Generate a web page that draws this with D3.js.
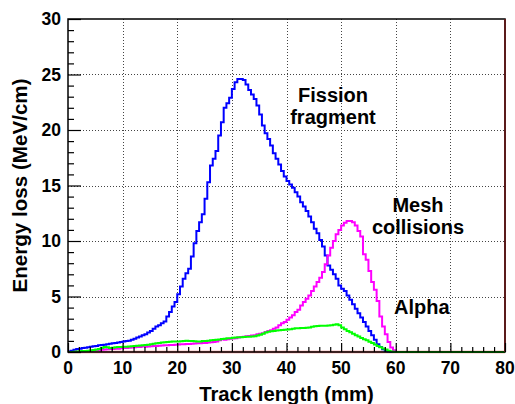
<!DOCTYPE html>
<html>
<head>
<meta charset="utf-8">
<script src="https://cdn.jsdelivr.net/npm/d3@7"></script>
<style>
  html, body { margin: 0; padding: 0; background: #fff; }
  svg { display: block; }
  text { font-family: "Liberation Sans", Arial, Helvetica, sans-serif; font-weight: bold; fill: #000; }
</style>
</head>
<body>
<svg id="chart" width="515" height="404"></svg>
<script>
// Histogram binning: 0.5 mm bins from 0 to 80 mm
const binWidth = 0.5;
const xTicksMajor = [0, 10, 20, 30, 40, 50, 60, 70, 80];
const yTicksMajor = [0, 5, 10, 15, 20, 25, 30];

// Fission fragment energy loss per bin (MeV/cm)
const fissionFragment = [
  0.05, 0.12, 0.2, 0.28, 0.3, 0.35, 0.38, 0.42, 0.48, 0.52,
  0.55, 0.6, 0.62, 0.65, 0.7, 0.75, 0.78, 0.8, 0.85, 0.9,
  0.95, 1.0, 1.02, 1.1, 1.2, 1.3, 1.4, 1.5, 1.6, 1.75,
  1.9, 2.1, 2.3, 2.4, 2.6, 2.75, 3.2, 3.6, 4.1, 4.5,
  5.2, 5.9, 6.6, 7.1, 7.5, 8.6, 9.8, 10.9, 11.7, 12.4,
  13.8, 15.3, 16.8, 17.4, 18.1, 19.5, 20.7, 22.0, 22.4, 22.9,
  23.7, 24.3, 24.6, 24.6, 24.5, 24.1, 23.6, 23.2, 22.8, 22.2,
  21.4, 20.4, 19.7, 19.2, 18.6, 17.9, 17.4, 16.9, 16.3, 15.8,
  15.4, 15.1, 14.8, 14.4, 14.0, 13.5, 13.1, 12.7, 12.2, 11.7,
  11.1, 10.7, 10.1, 9.5, 8.7, 7.8, 7.4, 7.0, 6.6, 6.0,
  5.7, 5.5, 5.1, 4.7, 4.3, 3.9, 3.5, 3.1, 2.7, 2.3,
  1.9, 1.5, 1.1, 0.7, 0.45, 0.25, 0.1, 0.05, 0, 0,
  0, 0, 0, 0, 0, 0, 0, 0, 0, 0,
  0, 0, 0, 0, 0, 0, 0, 0, 0, 0,
  0, 0, 0, 0, 0, 0, 0, 0, 0, 0,
  0, 0, 0, 0, 0, 0, 0, 0, 0, 0
];

// Mesh collisions energy loss per bin (MeV/cm)
const meshCollisions = [
  0, 0, 0, 0.02, 0.03, 0.05, 0.08, 0.1, 0.12, 0.14,
  0.16, 0.18, 0.2, 0.22, 0.24, 0.26, 0.28, 0.3, 0.3, 0.33,
  0.35, 0.36, 0.38, 0.4, 0.42, 0.44, 0.46, 0.55, 0.48, 0.5,
  0.52, 0.53, 0.55, 0.56, 0.58, 0.6, 0.6, 0.62, 0.64, 0.66,
  0.68, 0.69, 0.7, 0.72, 0.73, 0.75, 0.76, 0.78, 0.78, 0.8,
  0.82, 0.85, 0.88, 0.9, 0.95, 1.05, 1.15, 1.1, 1.15, 1.2,
  1.22, 1.25, 1.3, 1.35, 1.38, 1.42, 1.45, 1.48, 1.5, 1.6,
  1.65, 1.7, 1.8, 1.9, 1.95, 2.1, 2.2, 2.4, 2.6, 2.7,
  2.9, 3.1, 3.3, 3.6, 3.8, 4.2, 4.5, 4.8, 5.1, 5.5,
  5.9, 6.3, 6.7, 7.2, 7.9, 8.7, 9.4, 10.0, 10.6, 11.0,
  11.4, 11.65, 11.8, 11.8, 11.7, 11.4, 10.9, 10.4, 8.8, 8.3,
  7.3, 6.3, 5.6, 4.6, 3.2, 2.3, 1.6, 0.9, 0.4, 0.15,
  0, 0, 0, 0, 0, 0, 0, 0, 0, 0,
  0, 0, 0, 0, 0, 0, 0, 0, 0, 0,
  0, 0, 0, 0, 0, 0, 0, 0, 0, 0,
  0, 0, 0, 0, 0, 0, 0, 0, 0, 0
];

// Alpha energy loss per bin (MeV/cm)
const alpha = [
  0, 0.01, 0.02, 0.04, 0.06, 0.08, 0.1, 0.12, 0.14, 0.18,
  0.22, 0.26, 0.35, 0.45, 0.42, 0.35, 0.38, 0.42, 0.44, 0.45,
  0.47, 0.48, 0.5, 0.52, 0.54, 0.56, 0.58, 0.6, 0.62, 0.66,
  0.7, 0.74, 0.78, 0.82, 0.85, 0.88, 0.9, 0.92, 0.94, 0.95,
  0.95, 0.96, 1.0, 1.02, 1.0, 0.98, 0.96, 0.94, 0.95, 0.98,
  1.0, 1.02, 1.05, 1.08, 1.1, 1.13, 1.16, 1.2, 1.23, 1.25,
  1.28, 1.3, 1.32, 1.34, 1.36, 1.38, 1.38, 1.4, 1.42, 1.48,
  1.55, 1.65, 1.75, 1.82, 1.86, 1.9, 1.93, 1.96, 1.98, 2.0,
  2.03, 2.06, 2.1, 2.13, 2.15, 2.16, 2.17, 2.18, 2.2, 2.28,
  2.33, 2.35, 2.36, 2.36, 2.37, 2.38, 2.4, 2.45, 2.5, 2.4,
  2.2, 2.05, 1.9, 1.78, 1.65, 1.52, 1.4, 1.27, 1.15, 1.05,
  0.92, 0.8, 0.68, 0.55, 0.42, 0.32, 0.22, 0.12, 0.05, 0.02,
  0, 0, 0, 0, 0, 0, 0, 0, 0, 0,
  0, 0, 0, 0, 0, 0, 0, 0, 0, 0,
  0, 0, 0, 0, 0, 0, 0, 0, 0, 0,
  0, 0, 0, 0, 0, 0, 0, 0, 0, 0
];

const series = [
  { name: "Fission fragment", values: fissionFragment, color: "#0000ff" },
  { name: "Mesh collisions", values: meshCollisions, color: "#ff00ff" },
  { name: "Alpha", values: alpha, color: "#00ff00" }
];

const labels = [
  { lines: ["Fission", "fragment"], x: 333, y: 102, anchor: "middle" },
  { lines: ["Mesh", "collisions"], x: 418, y: 212, anchor: "middle" },
  { lines: ["Alpha"], x: 394, y: 314, anchor: "start" }
];

const frame = { left: 68, right: 505, top: 19, bottom: 352 };
const svg = d3.select("#chart");

const x = d3.scaleLinear().domain([0, 80]).range([frame.left, frame.right]);
const y = d3.scaleLinear().domain([0, 30]).range([frame.bottom, frame.top]);

// Dotted grid at the major ticks
const grid = svg.append("g").attr("stroke", "#444").attr("stroke-width", 1)
  .attr("stroke-dasharray", "1,2").attr("fill", "none");
grid.selectAll("line.gx").data(xTicksMajor.slice(1, -1)).join("line")
  .attr("x1", d => Math.round(x(d)) + 0.5).attr("x2", d => Math.round(x(d)) + 0.5)
  .attr("y1", frame.top).attr("y2", frame.bottom);
grid.selectAll("line.gy").data(yTicksMajor.slice(1, -1)).join("line")
  .attr("x1", frame.left).attr("x2", frame.right)
  .attr("y1", d => Math.round(y(d)) + 0.5).attr("y2", d => Math.round(y(d)) + 0.5);

// Empty baseline histogram along zero
svg.append("line")
  .attr("x1", x(0)).attr("x2", x(80)).attr("y1", y(0)).attr("y2", y(0))
  .attr("stroke", "#f08080").attr("stroke-width", 2.5);

// Step outlines for each histogram
const step = d3.line()
  .x(d => x(d[0]))
  .y(d => y(d[1]))
  .curve(d3.curveStepAfter);

function histPoints(values) {
  const pts = values.map((v, i) => [i * binWidth, v]);
  pts.push([values.length * binWidth, values[values.length - 1]]);
  return pts;
}

series.forEach(s => {
  svg.append("path")
    .datum(histPoints(s.values))
    .attr("d", step)
    .attr("fill", "none")
    .attr("stroke", s.color)
    .attr("stroke-width", 2)
    .attr("stroke-linejoin", "miter");
});

// Frame
svg.append("rect")
  .attr("x", frame.left).attr("y", frame.top)
  .attr("width", frame.right - frame.left).attr("height", frame.bottom - frame.top)
  .attr("fill", "none").attr("stroke", "#000").attr("stroke-width", 1.5);
svg.append("line")
  .attr("x1", frame.right).attr("x2", frame.right).attr("y1", frame.top).attr("y2", frame.bottom)
  .attr("stroke", "#5a1a1a").attr("stroke-width", 2);

// Axes: ticks drawn inward, labels outside
const xAxis = d3.axisTop(x).tickValues(d3.range(0, 81, 2)).tickFormat("")
  .tickSize(5).tickSizeOuter(0);
const gx = svg.append("g").attr("transform", `translate(0,${frame.bottom})`).call(xAxis);
gx.select(".domain").remove();
gx.selectAll(".tick line").attr("stroke", "#000").attr("stroke-width", 1.2)
  .attr("y2", d => d % 10 === 0 ? -9 : -5);

const yAxis = d3.axisRight(y).tickValues(d3.range(0, 31, 1)).tickFormat("")
  .tickSize(6).tickSizeOuter(0);
const gy = svg.append("g").attr("transform", `translate(${frame.left},0)`).call(yAxis);
gy.select(".domain").remove();
gy.selectAll(".tick line").attr("stroke", "#000").attr("stroke-width", 1.2)
  .attr("x2", d => d % 5 === 0 ? 13 : 6);

// Tick labels
svg.append("g").selectAll("text").data(xTicksMajor).join("text")
  .attr("x", d => x(d)).attr("y", 373.5)
  .attr("text-anchor", "middle").attr("font-size", 17.5)
  .text(d => d);
svg.append("g").selectAll("text").data(yTicksMajor).join("text")
  .attr("x", 61).attr("y", d => y(d)).attr("dy", "0.36em")
  .attr("text-anchor", "end").attr("font-size", 17.5)
  .text(d => d);

// Axis titles
svg.append("text")
  .attr("x", 286.5).attr("y", 401)
  .attr("text-anchor", "middle").attr("font-size", 20.3)
  .text("Track length (mm)");
svg.append("text")
  .attr("transform", "translate(27,185.5) rotate(-90)")
  .attr("text-anchor", "middle").attr("font-size", 20.6)
  .text("Energy loss (MeV/cm)");

// Series annotations
labels.forEach(l => {
  const t = svg.append("text").attr("text-anchor", l.anchor).attr("font-size", 20);
  l.lines.forEach((line, i) => {
    t.append("tspan").attr("x", l.x).attr("y", l.y + i * 21.5).text(line);
  });
});
</script>
</body>
</html>
